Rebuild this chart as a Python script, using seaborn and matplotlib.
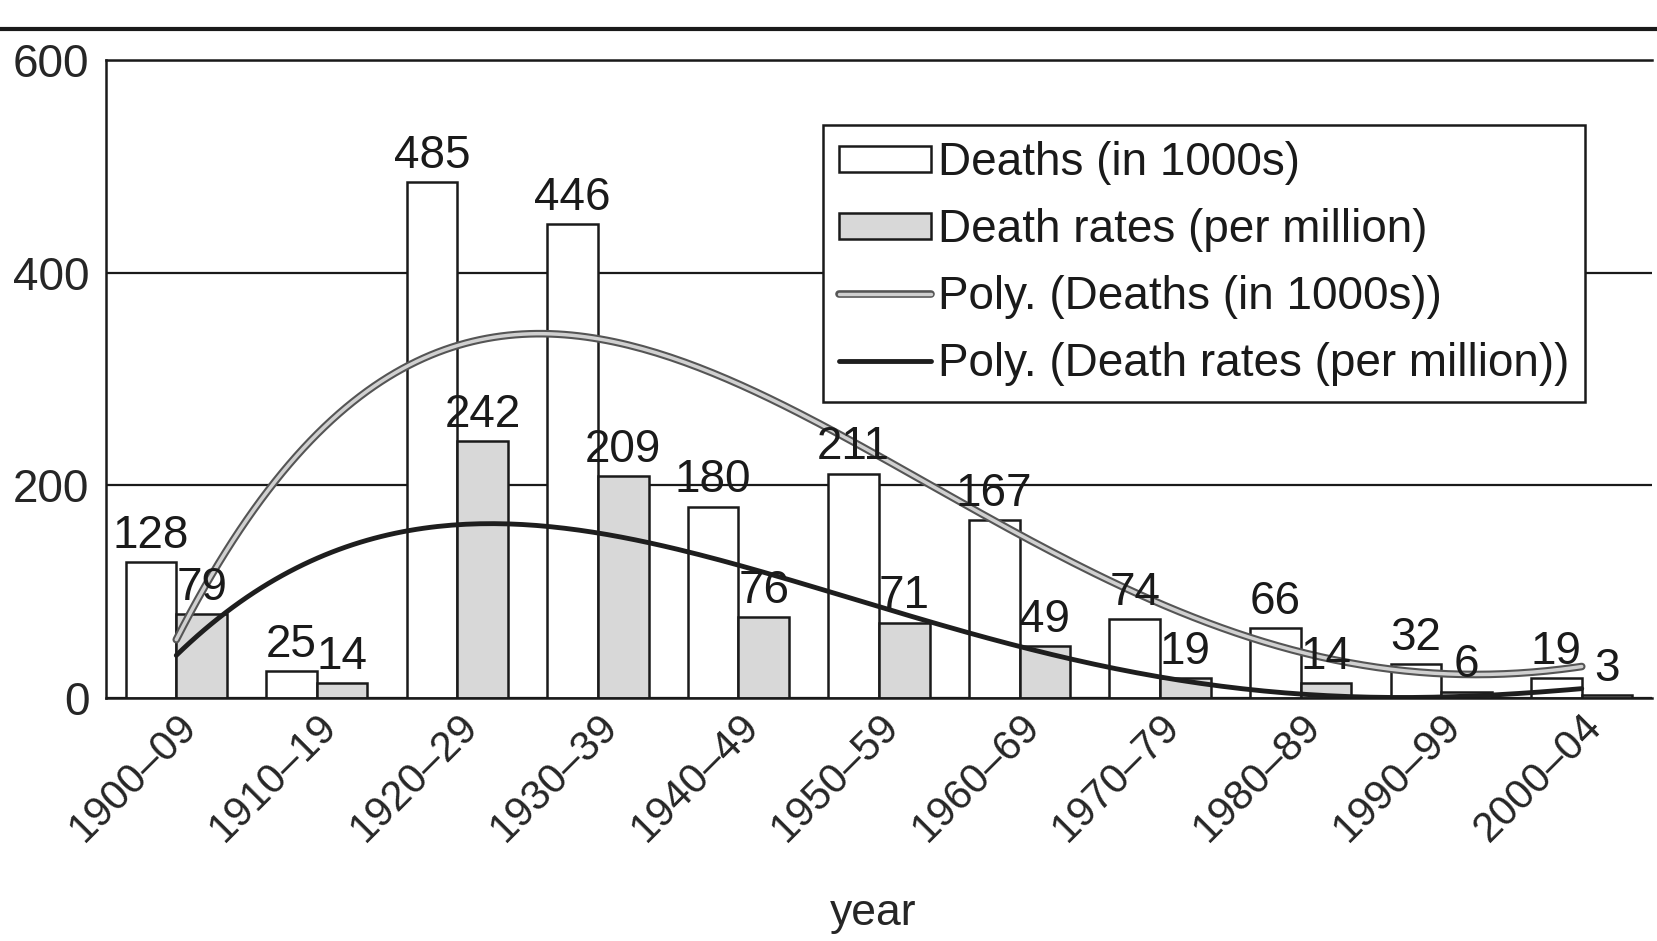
import numpy as np
import pandas as pd
import seaborn as sns
import matplotlib.pyplot as plt
import matplotlib.patheffects as pe
from matplotlib.lines import Line2D
from matplotlib.patches import Patch

decades = ["1900–09", "1910–19", "1920–29", "1930–39", "1940–49", "1950–59",
           "1960–69", "1970–79", "1980–89", "1990–99", "2000–04"]
deaths = [128, 25, 485, 446, 180, 211, 167, 74, 66, 32, 19]
death_rates = [79, 14, 242, 209, 76, 71, 49, 19, 14, 6, 3]
series_names = ["Deaths (in 1000s)", "Death rates (per million)"]

sns.set_style("white")
plt.rcParams["font.family"] = ["Liberation Sans", "DejaVu Sans"]
plt.rcParams["text.color"] = "#1a1a1a"

df = pd.DataFrame({
    "decade": decades * 2,
    "series": [series_names[0]] * len(decades) + [series_names[1]] * len(decades),
    "value": deaths + death_rates,
})

fig = plt.figure(figsize=(16.58, 9.41), dpi=100)
ax = fig.add_axes([106 / 1658, 1 - 698 / 941, 1546 / 1658, 638 / 941])

sns.barplot(data=df, x="decade", y="value", hue="series", hue_order=series_names,
            palette=["white", "#d8d8d8"], edgecolor="#1a1a1a", linewidth=1.8,
            width=0.72, gap=0, legend=False, ax=ax)

for cont in ax.containers:
    ax.bar_label(cont, padding=3, fontsize=33)

# polynomial trend lines (like the spreadsheet's "Poly." trendlines)
idx = np.arange(len(decades))
xs = np.linspace(0, len(decades) - 1, 200)
fit_d = np.polyval(np.polyfit(idx, deaths, 4), xs)
fit_r = np.polyval(np.polyfit(idx, death_rates, 4), xs)
ax.plot(xs, fit_d, color="#d0d0d0", lw=2.5,
        path_effects=[pe.Stroke(linewidth=5.5, foreground="#555555"), pe.Normal()])
ax.plot(xs, fit_r, color="#1e1e1e", lw=3.5)

ax.set_xlim(-0.5, len(decades) - 0.5)
ax.set_ylim(0, 600)
ax.set_yticks([0, 200, 400, 600])
ax.yaxis.grid(True, color="#1a1a1a", lw=1.6)
ax.set_axisbelow(True)
for s in ["left", "bottom", "top"]:
    ax.spines[s].set_visible(True)
    ax.spines[s].set_color("#1a1a1a")
    ax.spines[s].set_linewidth(1.8)
ax.spines["right"].set_visible(False)

ax.set_xticks(idx)
ax.set_xticklabels(decades, rotation=45, ha="right", rotation_mode="anchor", fontsize=30)
ax.set_xticks(np.arange(-0.5, len(decades), 1.0), minor=True)
ax.tick_params(axis="x", which="major", length=0, pad=6)
ax.tick_params(axis="x", which="minor", length=10, width=1.8, direction="out", color="#1a1a1a")
ax.tick_params(axis="y", length=9, width=1.8, direction="out", color="#1a1a1a", labelsize=33, pad=3)

ax.set_xlabel("year", fontsize=32)
ax.xaxis.set_label_coords(0.496, -0.305)
ax.set_ylabel("")

handles = [
    Patch(facecolor="white", edgecolor="#1a1a1a", lw=1.8),
    Patch(facecolor="#d8d8d8", edgecolor="#1a1a1a", lw=1.8),
    Line2D([0], [0], color="#d0d0d0", lw=2.5,
           path_effects=[pe.Stroke(linewidth=5.5, foreground="#555555"), pe.Normal()]),
    Line2D([0], [0], color="#1e1e1e", lw=3.5),
]
labels = series_names + ["Poly. (Deaths (in 1000s))", "Poly. (Death rates (per million))"]
leg = ax.legend(handles, labels, loc="upper left", bbox_to_anchor=(0.464, 0.898),
                fontsize=33, frameon=True, fancybox=False, edgecolor="#1a1a1a",
                framealpha=1, handlelength=2.0, handleheight=0.5, handletextpad=0.15,
                borderpad=0.35, labelspacing=0.5, borderaxespad=0)
leg.get_frame().set_linewidth(1.8)

fig.add_artist(Line2D([0, 1], [0.969, 0.969], color="#1a1a1a", lw=3))

fig.savefig("out.png", dpi=100)
